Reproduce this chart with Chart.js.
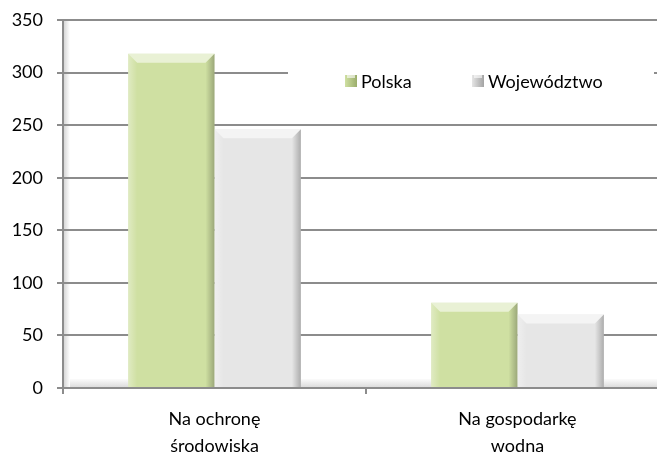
<!DOCTYPE html>
<html>
<head>
<meta charset="utf-8">
<script src="https://cdn.jsdelivr.net/npm/chart.js@4"></script>
<style>
  html, body { margin: 0; padding: 0; background: #fff; overflow: hidden; }
  #wrap { width: 680px; height: 456px; }
</style>
</head>
<body>
<div id="wrap"><canvas id="myChart" width="680" height="456"></canvas></div>
<script>
// dane wykresu
const kategorie = [['Na ochronę', 'środowiska'], ['Na gospodarkę', 'wodna']];
const polska = [318, 81];
const wojewodztwo = [246, 70];
const yTicks = [0, 50, 100, 150, 200, 250, 300, 350];

const FONT = 'Lato, "Open Sans", sans-serif';

// sciana i podloga jak w Excelu
const tloPlugin = {
    id: 'tlo',
    beforeDraw(chart){
        const {ctx, chartArea: a} = chart;
        ctx.save();
        let g = ctx.createLinearGradient(0, a.bottom - 9, 0, a.bottom);
        g.addColorStop(0, '#fbfbfb');
        g.addColorStop(1, '#d9d9d9');
        ctx.fillStyle = g;
        ctx.fillRect(a.left, a.bottom - 9, a.right - a.left, 9);
        g = ctx.createLinearGradient(a.left, 0, a.left + 7, 0);
        g.addColorStop(0, '#d0d0d0');
        g.addColorStop(1, '#ffffff');
        ctx.fillStyle = g;
        ctx.fillRect(a.left, a.top, 7, a.bottom - a.top);
        ctx.restore();
    }
};

// legenda w srodku wykresu (na bialym tle)
const legendaPlugin = {
    id: 'legenda',
    beforeDatasetsDraw(chart){
        const {ctx} = chart;
        ctx.save();
        ctx.fillStyle = '#ffffff';
        ctx.fillRect(288, 52, 366, 44);
        const pozycje = [345, 472];
        ctx.font = '18px ' + FONT;
        ctx.textBaseline = 'middle';
        chart.data.datasets.forEach((ds, i) => {
            const x = pozycje[i];
            const g = ctx.createLinearGradient(x, 0, x + 12, 0);
            g.addColorStop(0, ds.backgroundColor);
            g.addColorStop(1, ds.borderColor);
            ctx.fillStyle = g;
            ctx.fillRect(x, 75, 12, 12);
            ctx.fillStyle = 'rgba(255,255,255,0.6)';
            ctx.fillRect(x + 2, 75, 8, 3);
            ctx.fillStyle = '#000';
            ctx.fillText(ds.label, x + 16, 82);
        });
        ctx.restore();
    }
};

// fazowanie slupkow
const fazaPlugin = {
    id: 'faza',
    afterDatasetsDraw(chart){
        const {ctx} = chart;
        ctx.save();
        chart.data.datasets.forEach((ds, i) => {
            chart.getDatasetMeta(i).data.forEach((bar) => {
                const w = bar.width, l = bar.x - w / 2, r = bar.x + w / 2;
                const t = bar.y, b = bar.base, f = 9;
                // gora
                ctx.fillStyle = 'rgba(255,255,255,0.55)';
                ctx.beginPath();
                ctx.moveTo(l, t); ctx.lineTo(r, t); ctx.lineTo(r - f, t + f); ctx.lineTo(l + f, t + f);
                ctx.closePath(); ctx.fill();
                // prawa krawedz
                let g = ctx.createLinearGradient(r - f, 0, r, 0);
                g.addColorStop(0, 'rgba(0,0,0,0)');
                g.addColorStop(1, 'rgba(0,0,0,0.25)');
                ctx.fillStyle = g;
                ctx.beginPath();
                ctx.moveTo(r, t); ctx.lineTo(r, b); ctx.lineTo(r - f, b); ctx.lineTo(r - f, t + f);
                ctx.closePath(); ctx.fill();
                // lewa krawedz
                g = ctx.createLinearGradient(l, 0, l + f, 0);
                g.addColorStop(0, 'rgba(255,255,255,0.35)');
                g.addColorStop(1, 'rgba(255,255,255,0)');
                ctx.fillStyle = g;
                ctx.beginPath();
                ctx.moveTo(l, t); ctx.lineTo(l + f, t + f); ctx.lineTo(l + f, b); ctx.lineTo(l, b);
                ctx.closePath(); ctx.fill();
            });
        });
        ctx.restore();
    }
};

new Chart('myChart', {
    type: 'bar',
    data: {
        labels: kategorie,
        datasets: [{
            label: 'Polska',
            data: polska,
            backgroundColor: '#cfe0a2',
            borderColor: '#9bad6b',
            borderWidth: 0
        }, {
            label: 'Województwo',
            data: wojewodztwo,
            backgroundColor: '#e6e6e6',
            borderColor: '#a3a3a3',
            borderWidth: 0
        }]
    },
    options: {
        responsive: false,
        animation: false,
        layout: { padding: { top: 20, right: 11, left: 0, bottom: 0 } },
        categoryPercentage: 0.57,
        barPercentage: 1.0,
        plugins: {
            legend: { display: false },
            tooltip: { enabled: false }
        },
        scales: {
            x: {
                grid: { drawOnChartArea: false, drawTicks: true, tickLength: 6, color: '#8c8c8c', lineWidth: 2 },
                border: { color: '#8c8c8c', width: 2 },
                ticks: { color: '#000', font: { family: FONT, size: 18, lineHeight: 1.5 }, padding: 12, maxRotation: 0 },
                afterFit(s){ s.height = 68; }
            },
            y: {
                min: 0,
                max: 350,
                afterBuildTicks(s){ s.ticks = yTicks.map(v => ({value: v})); },
                grid: { color: '#8c8c8c', lineWidth: 2, tickLength: 6 },
                border: { color: '#8c8c8c', width: 2 },
                ticks: { color: '#000', font: { family: FONT, size: 18 }, padding: 14 },
                afterFit(s){ s.width = 63; s.paddingTop = 0; s.paddingBottom = 0; }
            }
        }
    },
    plugins: [tloPlugin, legendaPlugin, fazaPlugin]
});
</script>
</body>
</html>
